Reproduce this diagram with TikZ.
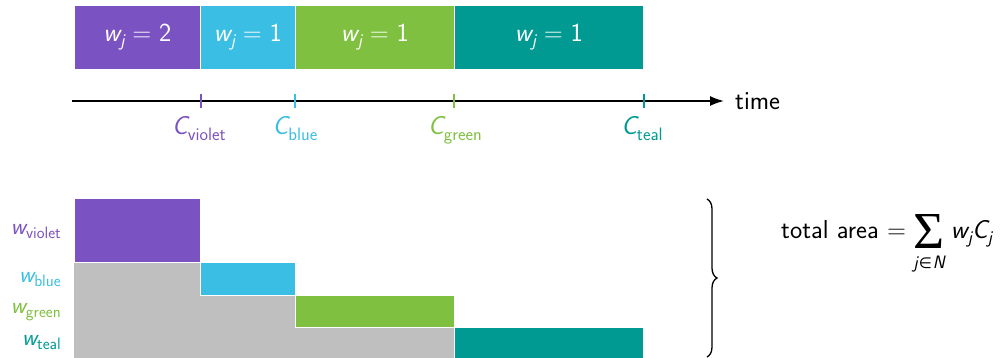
\documentclass[tikz,border=0pt]{standalone}
\usepackage{fontspec}
\usepackage{graphicx}
\usetikzlibrary{arrows.meta,decorations.pathreplacing}
\newfontfamily\sigfont{Liberation Serif}
\newfontfamily\symfont{DejaVu Sans}
\newcommand{\sm}[1]{{\slshape #1}}
\newcommand{\lowsub}[2][18]{\raisebox{-0.2em}{\fontsize{#1}{#1}\selectfont #2}}
\newcommand{\eqs}{\hspace{0.3em}=\hspace{0.3em}}
\definecolor{cviolet}{RGB}{123,82,193}
\definecolor{cblue}{RGB}{58,190,227}
\definecolor{cgreen}{RGB}{128,192,64}
\definecolor{cteal}{RGB}{0,154,147}
\definecolor{cgray}{RGB}{191,191,191}
\begin{document}
\begin{tikzpicture}[x=1pt,y=-1pt,
  every node/.style={font=\fontsize{26}{30}\selectfont\sffamily},
  mathbig/.style={font=\fontsize{26}{30}\selectfont\sffamily},
  bar/.style={draw=white,line width=0.8pt,inner sep=0pt,anchor=north west,text=white,mathbig},
  tick/.style={line width=1.5pt},
  clabel/.style={anchor=base,inner sep=0pt,mathbig},
  wlabel/.style={anchor=base east,inner sep=0pt,font=\fontsize{23.5}{27}\selectfont\sffamily}]
\useasboundingbox (0,0) rectangle (1001,358);
% top schedule
\node[bar,fill=cviolet,minimum width=126pt,minimum height=64pt] (bv) at (74,5) {\sm{w}\lowsub{\sm{j}}\eqs 2};
\node[bar,fill=cblue,minimum width=95pt,minimum height=64pt] (bb) at (200,5) {\sm{w}\lowsub{\sm{j}}\eqs 1};
\node[bar,fill=cgreen,minimum width=159pt,minimum height=64pt] (bg) at (295,5) {\sm{w}\lowsub{\sm{j}}\eqs 1};
\node[bar,fill=cteal,minimum width=189pt,minimum height=64pt] (bt) at (454,5) {\sm{w}\lowsub{\sm{j}}\eqs 1};
% time axis
\coordinate (ta) at (72,101);
\coordinate (tb) at (724,101);
\draw[line width=1.6pt,-{Latex[length=14pt,width=10pt]}] (ta) -- (tb);
\node[anchor=base west,inner sep=0pt] (time) at (735,110) {time};
% ticks
\coordinate (kv1) at (201,94); \coordinate (kv2) at (201,108);
\coordinate (kb1) at (295,94); \coordinate (kb2) at (295,108);
\coordinate (kg1) at (454,94); \coordinate (kg2) at (454,108);
\coordinate (kt1) at (644,94); \coordinate (kt2) at (644,108);
\draw[tick,cviolet] (kv1) -- (kv2);
\draw[tick,cblue] (kb1) -- (kb2);
\draw[tick,cgreen] (kg1) -- (kg2);
\draw[tick,cteal] (kt1) -- (kt2);
\node[clabel,text=cviolet] (cv) at (199,135) {\sm{C}\lowsub{violet}};
\node[clabel,text=cblue] (cb) at (295,135) {\sm{C}\lowsub{blue}};
\node[clabel,text=cgreen] (cg) at (455,135) {\sm{C}\lowsub{green}};
\node[clabel,text=cteal] (ct) at (642,135) {\sm{C}\lowsub{teal}};
% bottom area picture
\fill[cgray] (74,262) -- (200,262) -- (200,295) -- (295,295) -- (295,327) -- (454,327) -- (454,358) -- (74,358) -- cycle;
\node[bar,fill=cviolet,minimum width=126pt,minimum height=64pt] (rv) at (74,198) {};
\node[bar,fill=cblue,minimum width=95pt,minimum height=33pt] (rb) at (200,262) {};
\node[bar,fill=cgreen,minimum width=159pt,minimum height=32pt] (rg) at (295,295) {};
\node[bar,fill=cteal,minimum width=189pt,minimum height=33pt] (rt) at (454,327) {};
\node[wlabel,text=cviolet] (wv) at (61,234) {\sm{w}\lowsub[16.5]{violet}};
\node[wlabel,text=cblue] (wb) at (61,282) {\sm{w}\lowsub[16.5]{blue}};
\node[wlabel,text=cgreen] (wg) at (61,313) {\sm{w}\lowsub[16.5]{green}};
\node[wlabel,text=cteal] (wt) at (61,345) {\sm{w}\lowsub[16.5]{teal}};
% brace
\coordinate (br1) at (707,199);
\coordinate (br2) at (707,357);
\draw[line width=1.3pt,decorate,decoration={brace,amplitude=10pt}] (br1) -- (br2);
% formula
\node[anchor=base west,inner sep=0pt] (tot) at (781,238) {total area};
\node[anchor=base west,inner sep=0pt,mathbig] (eq) at ([xshift=8pt]tot.base east) {=};
\node[anchor=west,inner sep=0pt] (sig) at ([xshift=7pt,yshift=7pt]eq.base east) {\resizebox*{31pt}{34pt}{\sigfont Σ}};
\node[anchor=base,inner sep=0pt] (lim) at ([yshift=-37pt]sig.center) {\fontsize{18}{18}\selectfont\sm{j}\hspace{1pt}{\fontsize{15}{15}\symfont ∈}\hspace{1pt}\sm{N}};
\coordinate (wcpos) at (sig.east |- tot.base);
\node[anchor=base west,inner sep=0pt,mathbig] (wc) at ([xshift=6pt]wcpos) {\sm{w}\lowsub{\sm{j}}\sm{C}\lowsub{\sm{j}}};
\end{tikzpicture}
\end{document}
